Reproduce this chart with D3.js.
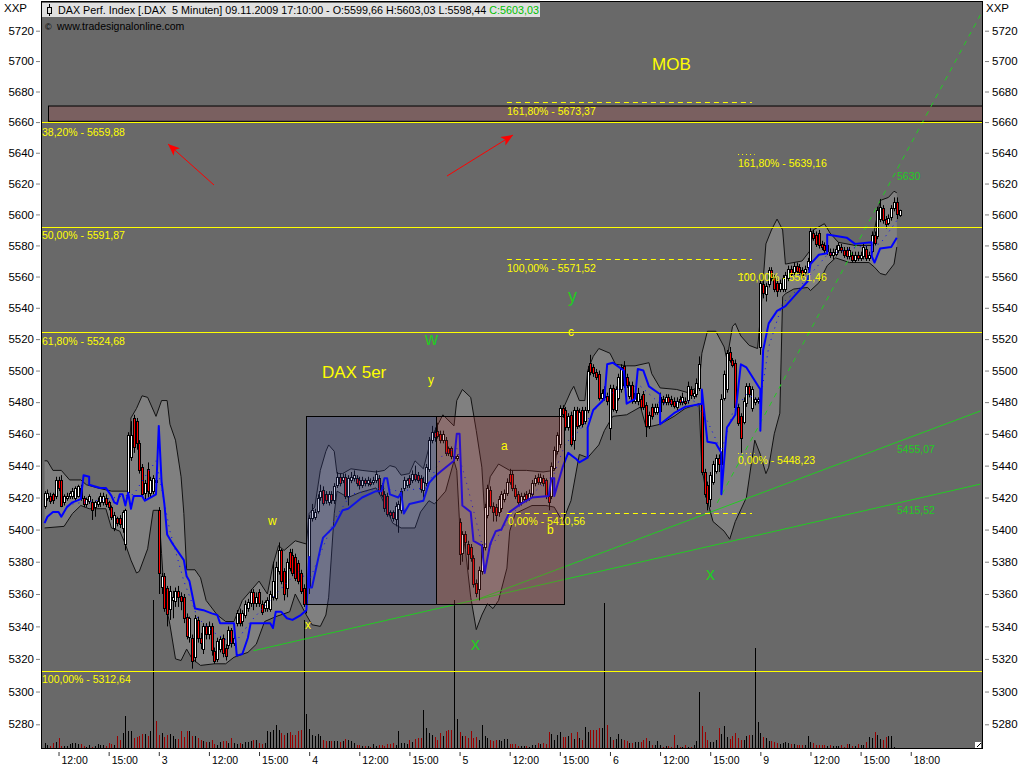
<!DOCTYPE html>
<html>
  <head>
    <script src="https://d3js.org/d3.v7.min.js" charset="utf-8"></script>
    <style>
      html, body { margin: 0; padding: 0; background: #fff; }
      svg { display: block; font-family: "Liberation Sans", sans-serif; }
    </style>
  </head>
  <body>
    <svg id="chart" width="1024" height="768"></svg>
    <script>
      // candles, one row = 10 bars
      var opens = [
        5415,5420,5421,5422,5421,5431,5431,5417,5420,5421,
        5421,5420,5421,5426,5420,5416,5418,5417,5414,5416,
        5417,5417,5420,5417,5414,5401,5407,5407,5401,5391,
        5423,5445,5470,5468,5454,5439,5423,5438,5423,5424,
        5431,5412,5364,5371,5364,5351,5356,5356,5362,5359,
        5358,5346,5333,5333,5321,5344,5333,5326,5340,5335,
        5340,5325,5320,5326,5333,5327,5329,5338,5330,5342,
        5348,5343,5347,5351,5354,5361,5354,5361,5354,5351,
        5351,5351,5358,5358,5374,5387,5374,5364,5386,5384,
        5383,5379,5373,5364,5354,5364,5407,5408,5412,5420,
        5425,5422,5417,5422,5418,5428,5433,5431,5433,5421,
        5431,5432,5432,5431,5428,5431,5429,5430,5430,5431,
        5432,5428,5422,5421,5411,5411,5407,5413,5412,5426,
        5428,5432,5431,5435,5434,5432,5425,5429,5438,5456,
        5461,5462,5460,5456,5456,5451,5451,5446,5445,5405,
        5385,5397,5391,5389,5382,5367,5363,5374,5389,5409,
        5425,5415,5414,5411,5413,5419,5423,5435,5435,5426,
        5422,5417,5419,5422,5420,5422,5429,5433,5430,5432,
        5431,5421,5421,5439,5449,5453,5476,5475,5464,5472,
        5456,5475,5466,5475,5468,5475,5505,5502,5499,5498,
        5483,5488,5484,5464,5489,5475,5483,5488,5503,5496,
        5484,5491,5481,5481,5482,5485,5478,5465,5477,5474,
        5474,5474,5482,5480,5483,5482,5481,5477,5482,5480,
        5481,5481,5488,5484,5485,5489,5481,5436,5428,5419,
        5430,5437,5445,5441,5483,5488,5512,5507,5505,5477,
        5471,5468,5479,5490,5476,5480,5481,5515,5555,5549,
        5555,5564,5559,5556,5552,5552,5552,5559,5565,5563,
        5567,5566,5564,5563,5566,5570,5588,5587,5588,5581,
        5580,5576,5576,5574,5575,5577,5579,5577,5577,5573,
        5574,5571,5574,5572,5573,5578,5572,5577,5587,5586,
        5597,5604,5597,5595,5598,5604,5608,5599.66
      ];
      var closes = [
        5423,5423,5418,5418,5431,5426,5415,5421,5421,5423,
        5424,5426,5427,5420,5416,5419,5421,5412,5417,5418,
        5421,5421,5416,5414,5408,5409,5404,5403,5411,5412,
        5459,5459,5452,5454,5437,5422,5429,5424,5431,5432,
        5430,5373,5371,5351,5348,5362,5358,5362,5358,5356,
        5345,5334,5345,5319,5345,5333,5330,5340,5335,5340,
        5325,5319,5331,5332,5324,5322,5338,5330,5333,5348,
        5342,5348,5354,5355,5361,5354,5358,5354,5349,5355,
        5356,5360,5368,5377,5387,5368,5360,5380,5376,5373,
        5370,5368,5362,5354,5356,5407,5412,5411,5420,5424,
        5417,5418,5422,5418,5427,5433,5429,5433,5421,5432,
        5433,5434,5429,5428,5431,5429,5431,5429,5431,5435,
        5424,5422,5413,5410,5409,5407,5415,5416,5424,5431,
        5431,5428,5435,5432,5431,5425,5430,5439,5456,5461,
        5458,5459,5456,5460,5448,5448,5446,5445,5446,5385,
        5397,5392,5385,5382,5366,5361,5375,5389,5414,5426,
        5415,5411,5409,5419,5422,5423,5430,5430,5426,5421,
        5417,5421,5421,5419,5423,5429,5432,5430,5433,5429,
        5421,5417,5440,5450,5459,5476,5472,5464,5471,5454,
        5475,5465,5474,5466,5475,5500,5499,5498,5496,5483,
        5486,5483,5481,5489,5476,5488,5496,5502,5491,5491,
        5491,5481,5486,5486,5477,5477,5465,5472,5471,5477,
        5477,5483,5480,5483,5480,5479,5478,5481,5480,5483,
        5480,5490,5484,5486,5492,5504,5436,5422,5417,5434,
        5441,5445,5441,5482,5498,5511,5507,5504,5477,5467,
        5457,5481,5490,5485,5488,5482,5482,5556,5549,5554,
        5564,5559,5552,5551,5556,5559,5561,5565,5562,5567,
        5564,5563,5561,5565,5570,5589,5585,5581,5580,5579,
        5577,5580,5574,5576,5578,5580,5577,5574,5573,5577,
        5571,5574,5572,5574,5579,5572,5574,5587,5582,5603,
        5605,5596,5594,5598,5604,5608,5600,5603.03
      ];
      var highs = [
        5424,5425,5423,5423,5433,5433,5434,5422,5423,5424,
        5426,5427,5428,5428,5421,5420,5422,5419,5418,5420,
        5423,5423,5422,5418,5415,5411,5408,5409,5412,5413,
        5461,5468,5472,5470,5456,5441,5431,5442,5433,5434,
        5433,5414,5373,5373,5365,5365,5362,5364,5365,5361,
        5360,5348,5346,5335,5347,5346,5336,5342,5342,5343,
        5342,5327,5333,5334,5335,5329,5340,5339,5335,5350,
        5351,5350,5356,5357,5363,5363,5361,5363,5356,5356,
        5358,5362,5380,5380,5392,5388,5376,5382,5388,5388,
        5385,5381,5375,5366,5358,5409,5416,5413,5422,5428,
        5427,5424,5424,5424,5429,5436,5435,5435,5435,5434,
        5436,5437,5434,5433,5433,5432,5433,5432,5433,5437,
        5434,5429,5424,5423,5412,5412,5417,5418,5426,5433,
        5432,5434,5437,5440,5436,5434,5433,5441,5458,5465,
        5464,5467,5462,5462,5458,5452,5452,5447,5447,5407,
        5399,5399,5393,5391,5384,5369,5377,5391,5416,5428,
        5427,5417,5416,5421,5424,5425,5432,5438,5437,5428,
        5424,5423,5423,5424,5425,5431,5434,5435,5435,5434,
        5432,5423,5442,5452,5461,5478,5478,5477,5473,5474,
        5477,5477,5476,5477,5477,5503,5510,5504,5501,5500,
        5488,5490,5486,5491,5491,5490,5498,5504,5506,5498,
        5493,5493,5488,5489,5484,5487,5480,5474,5479,5479,
        5479,5486,5484,5485,5485,5484,5483,5483,5484,5486,
        5483,5493,5490,5488,5495,5509,5483,5438,5430,5436,
        5443,5447,5447,5485,5500,5513,5515,5508,5507,5479,
        5473,5483,5492,5492,5490,5483,5483,5558,5557,5556,
        5566,5566,5561,5558,5558,5561,5563,5567,5567,5569,
        5569,5568,5566,5567,5572,5591,5590,5589,5590,5583,
        5582,5582,5578,5578,5580,5582,5581,5579,5579,5579,
        5576,5576,5576,5576,5581,5580,5576,5589,5589,5605,
        5610,5606,5599,5600,5606,5611,5611,5603.03
      ];
      var lows = [
        5413,5418,5416,5416,5419,5424,5414,5415,5418,5419,
        5419,5418,5420,5418,5414,5414,5416,5406,5408,5414,
        5414,5415,5414,5412,5406,5399,5402,5401,5398,5387,
        5421,5443,5448,5450,5435,5420,5418,5420,5420,5422,
        5428,5360,5360,5349,5340,5344,5345,5352,5352,5350,
        5342,5332,5330,5314,5318,5330,5326,5323,5332,5332,
        5322,5317,5318,5324,5321,5319,5326,5327,5328,5340,
        5340,5340,5345,5349,5352,5350,5352,5352,5347,5349,
        5349,5349,5356,5356,5372,5366,5356,5358,5374,5371,
        5368,5366,5360,5352,5348,5360,5405,5406,5410,5418,
        5415,5416,5415,5416,5416,5426,5427,5429,5419,5415,
        5429,5430,5427,5425,5426,5427,5427,5427,5428,5429,
        5422,5420,5411,5408,5407,5405,5402,5398,5410,5424,
        5426,5426,5429,5430,5429,5423,5420,5427,5436,5454,
        5455,5457,5454,5454,5446,5446,5444,5443,5443,5378,
        5380,5388,5375,5380,5364,5358,5356,5372,5387,5407,
        5413,5405,5405,5408,5411,5417,5421,5428,5424,5419,
        5415,5415,5417,5417,5418,5420,5427,5428,5428,5427,
        5419,5412,5419,5437,5447,5451,5470,5462,5462,5452,
        5450,5463,5464,5464,5466,5473,5497,5496,5494,5481,
        5480,5481,5478,5456,5474,5473,5481,5486,5489,5489,
        5482,5479,5479,5478,5475,5475,5458,5463,5469,5472,
        5472,5472,5478,5478,5478,5477,5476,5475,5478,5478,
        5478,5479,5482,5482,5483,5487,5434,5420,5412,5414,
        5428,5435,5436,5438,5481,5486,5505,5502,5475,5465,
        5448,5466,5477,5483,5474,5478,5479,5510,5546,5544,
        5553,5557,5550,5547,5550,5550,5550,5557,5560,5561,
        5562,5561,5559,5561,5564,5568,5583,5579,5578,5577,
        5575,5574,5572,5571,5573,5575,5575,5572,5571,5571,
        5569,5569,5570,5570,5571,5570,5570,5575,5580,5584,
        5595,5594,5591,5593,5596,5602,5597,5598.44
      ];
      var volumes = [
        5,3,2,5,6,10,2,2,2,4,
        5,5,4,4,2,1,3,1,2,4,
        3,3,2,5,4,3,12,8,15,32,
        17,17,10,11,12,14,14,12,17,148,
        27,13,15,11,13,14,12,9,9,17,
        11,17,17,12,12,10,8,7,6,6,
        8,4,3,6,7,7,5,10,5,4,
        5,4,6,6,7,8,8,5,4,5,
        17,16,18,23,18,15,13,15,16,13,
        13,17,18,128,34,19,13,12,14,12,
        8,7,7,7,7,7,6,7,9,8,
        7,5,3,3,2,2,2,1,4,2,
        3,3,2,4,4,5,3,17,5,5,
        4,8,6,9,10,10,38,20,15,13,
        11,8,15,12,17,18,18,148,29,16,
        12,12,10,17,10,11,8,23,12,10,
        8,7,8,8,7,9,9,4,4,4,
        2,2,2,2,1,3,3,5,4,5,
        4,16,14,8,13,16,11,11,12,15,
        9,16,10,8,21,16,18,18,18,20,
        20,145,23,11,8,9,14,9,8,7,
        5,5,6,6,6,8,10,7,3,3,
        7,3,1,2,2,1,13,3,1,1,
        3,1,1,3,7,56,22,16,8,6,
        6,8,20,14,22,11,9,12,15,10,
        8,8,12,13,13,100,26,15,11,10,
        7,7,6,5,4,5,6,5,4,4,
        3,3,3,3,12,6,5,3,3,3,
        3,2,3,2,2,2,3,1,4,4,
        2,2,4,3,3,6,11,10,16,13,
        9,8,11,12,12,1,0,0
      ];
      var closingPrints = [39, 93, 147, 201, 255];

      var upperIdx = [0,1,3,6,9,13,15,19,24,30,31,33,35,37,40,42,44,45,47,49,50,51,54,56,58,62,65,68,71,74,77,80,82,84,86,90,94,95,97,99,101,102,104,105,107,110,114,119,122,124,126,128,131,133,136,139,143,147,148,150,153,155,157,158,160,163,167,173,179,183,186,189,190,192,194,195,197,199,203,205,209,212,217,218,221,227,231,235,236,238,241,244,245,247,248,250,253,256,257,259,261,263,265,266,272,275,276,280,282,285,291,297,298,300,303,305,306];
      var upperVal = [5443,5443,5437,5437,5431,5431,5428,5426,5424,5424,5470,5476,5484,5483,5471,5481,5481,5466,5456,5433,5410,5375,5375,5370,5356,5347,5343,5343,5356,5362,5368,5360,5378,5390,5387,5393,5391,5410,5414,5437,5449,5453,5449,5435,5435,5438,5437,5436,5437,5440,5439,5434,5435,5443,5438,5458,5472,5465,5481,5488,5483,5462,5439,5410,5433,5441,5437,5437,5436,5437,5475,5487,5490,5481,5481,5500,5509,5514,5511,5504,5503,5503,5505,5498,5489,5488,5486,5490,5511,5525,5525,5515,5507,5528,5530,5522,5516,5514,5534,5581,5590,5597,5590,5568,5570,5577,5590,5594,5588,5582,5580,5580,5590,5609,5611,5615,5614];
      var lowerIdx = [0,7,10,13,16,22,24,27,29,31,33,34,37,39,41,42,43,45,47,49,51,53,56,61,65,68,73,76,79,83,88,90,94,96,99,101,102,104,105,109,113,119,121,125,128,133,135,138,140,144,147,148,149,151,153,155,157,159,161,163,166,167,169,175,180,183,186,189,192,195,199,201,204,209,214,216,221,226,230,235,236,238,240,244,246,248,252,255,257,259,260,262,264,265,266,269,274,275,278,281,284,289,296,298,300,302,305,306];
      var lowerVal = [5401,5402,5410,5415,5413,5413,5401,5399,5391,5381,5373,5374,5388,5412,5412,5385,5358,5341,5320,5319,5326,5320,5316,5317,5317,5321,5324,5329,5343,5346,5349,5360,5347,5341,5340,5347,5358,5410,5424,5420,5423,5426,5420,5404,5401,5401,5411,5418,5416,5424,5443,5437,5404,5389,5358,5338,5347,5354,5351,5356,5376,5399,5410,5415,5415,5414,5405,5418,5447,5445,5453,5462,5471,5472,5477,5464,5466,5471,5476,5479,5439,5418,5405,5399,5394,5405,5420,5456,5447,5435,5439,5460,5473,5547,5549,5552,5553,5551,5556,5567,5572,5569,5569,5566,5562,5561,5568,5579];
      var avgIdx = [0,1,3,5,6,8,10,13,14,16,16,20,22,24,25,26,27,28,29,30,31,32,35,36,38,40,41,42,43,44,46,50,51,52,54,57,60,62,63,65,68,69,71,73,74,81,82,83,85,87,89,92,94,95,95,96,99,100,104,107,109,114,119,121,122,123,124,127,128,129,131,136,136,138,140,142,147,148,149,150,153,154,157,158,160,162,164,167,171,175,181,182,183,183,186,188,191,192,195,195,197,201,202,204,208,209,212,213,215,217,221,221,226,230,236,236,238,241,243,243,245,248,250,252,257,257,258,260,263,266,270,274,275,278,281,281,288,291,297,297,298,300,304,306];
      var avgVal = [5404,5408,5411,5411,5408,5414,5417,5419,5434,5433,5428,5426,5426,5421,5417,5416,5422,5422,5415,5423,5413,5421,5421,5418,5420,5422,5465,5430,5416,5397,5391,5381,5371,5368,5351,5350,5348,5347,5342,5342,5342,5322,5323,5333,5342,5342,5339,5349,5349,5345,5344,5347,5350,5383,5364,5364,5388,5395,5402,5412,5413,5420,5424,5424,5432,5432,5422,5420,5423,5410,5416,5418,5418,5429,5433,5436,5443,5460,5460,5415,5411,5393,5390,5373,5391,5399,5400,5411,5416,5420,5421,5432,5432,5421,5439,5448,5444,5442,5445,5464,5475,5482,5504,5505,5500,5479,5482,5501,5500,5490,5485,5466,5473,5477,5479,5488,5455,5454,5448,5422,5464,5472,5504,5502,5488,5462,5513,5530,5538,5541,5549,5557,5568,5574,5575,5587,5585,5581,5582,5573,5569,5578,5579,5585];
      var dotIdx = [10,22,32,36,40,42,45,50,55,61,68,74,83,91,95,104,110,121,127,137,143,148,152,157,161,168,175,183,187,192,201,208,214,221,233,238,243,247,252,257,260,265,270,281,292,300,306];
      var dotVal = [5416,5419,5422,5433,5443,5426,5399,5368,5345,5336,5329,5343,5360,5374,5368,5406,5422,5426,5424,5426,5447,5451,5426,5391,5391,5410,5422,5435,5454,5462,5483,5490,5490,5479,5481,5468,5449,5473,5485,5481,5515,5543,5551,5574,5579,5581,5596];

      // horizontal levels
      var fibPrices = [5659.88, 5591.87, 5524.68, 5312.64];
      var fibLabels = ["38,20% - 5659,88", "50,00% - 5591,87", "61,80% - 5524,68", "100,00% - 5312,64"];
      var dashPrices = [5673.37, 5571.52, 5410.56];
      var dashLabels = ["161,80% - 5673,37", "100,00% - 5571,52", "0,00% - 5410,56"];
      var dotPrices = [5639.16, 5561.46, 5448.23];
      var dotLabels = ["161,80% - 5639,16", "100,00% - 5561,46", "0,00% - 5448,23"];

      // trend lines: bar, price, bar, price
      var trendLines = [[75, 5325, 336, 5428.4], [155, 5356.4, 336, 5474.4]];
      var channelLine = [241.5, 5416.6, 336, 5730.4];

      var priceTicks = d3.range(5280, 5721, 20);
      var timeTicks = d3.range(5, 312, 18);
      var timeLabels = ["12:00","15:00","3","12:00","15:00","4","12:00","15:00","5","12:00","15:00","6","12:00","15:00","9","12:00","15:00","18:00"];

      var svg = d3.select("#chart");
      var x = d3.scaleLinear().domain([0, 100]).range([44.6, 323.1]);
      var y = d3.scaleLog().domain([5280, 5720]).range([724.3, 30.7]);
      var yVol = d3.scaleLinear().domain([0, 150]).range([748, 598]);

      var plotL = 41, plotR = 982, plotT = 1, plotB = 748;
      var green = "#22cc22";

      svg.append("defs").append("clipPath").attr("id", "plot")
        .append("rect").attr("x", plotL).attr("y", plotT).attr("width", plotR - plotL).attr("height", plotB - plotT);
      svg.select("defs").append("marker").attr("id", "head")
        .attr("markerUnits", "userSpaceOnUse").attr("markerWidth", 13).attr("markerHeight", 10)
        .attr("refX", 12).attr("refY", 5).attr("orient", "auto")
        .append("path").attr("d", "M0,0L12,5L0,10L3,5Z").attr("fill", "#ff0000");

      svg.append("rect").attr("x", plotL).attr("y", plotT).attr("width", plotR - plotL).attr("height", plotB - plotT)
        .attr("fill", "#696969");

      var g = svg.append("g").attr("clip-path", "url(#plot)");

      // resistance box
      g.append("rect").attr("x", 48.5).attr("y", y(5670.5)).attr("width", 960).attr("height", y(5660.5) - y(5670.5))
        .attr("fill", "#7a6060").attr("stroke", "#000");

      // envelope
      var bandPts = upperIdx.map((d, i) => [d, upperVal[i]])
        .concat(lowerIdx.map((d, i) => [d, lowerVal[i]]).reverse());
      var lineXY = d3.line().x(d => x(d[0])).y(d => y(d[1]));
      g.append("path").attr("d", lineXY(bandPts) + "Z").attr("fill", "#808080");
      g.append("path").attr("d", lineXY(upperIdx.map((d, i) => [d, upperVal[i]])))
        .attr("fill", "none").attr("stroke", "#111");
      g.append("path").attr("d", lineXY(lowerIdx.map((d, i) => [d, lowerVal[i]])))
        .attr("fill", "none").attr("stroke", "#111");

      // volume
      g.selectAll("line.vol").data(volumes).enter().append("line")
        .attr("class", "vol")
        .attr("x1", (d, i) => Math.round(x(i)) + 0.5)
        .attr("x2", (d, i) => Math.round(x(i)) + 0.5)
        .attr("y1", yVol(0))
        .attr("y2", d => yVol(d))
        .attr("stroke", (d, i) => closes[i] >= opens[i] || closingPrints.includes(i) ? "#000" : "#990000");

      // green trend lines
      g.selectAll("line.trend").data(trendLines).enter().append("line")
        .attr("class", "trend")
        .attr("x1", d => x(d[0])).attr("y1", d => y(d[1]))
        .attr("x2", d => x(d[2])).attr("y2", d => y(d[3]))
        .attr("stroke", green);
      g.append("line")
        .attr("x1", x(channelLine[0])).attr("y1", y(channelLine[1]))
        .attr("x2", x(channelLine[2])).attr("y2", y(channelLine[3]))
        .attr("stroke", green).attr("stroke-dasharray", "5 5");

      // candles
      var bars = g.selectAll("g.bar").data(opens).enter().append("g").attr("class", "bar");
      bars.append("line")
        .attr("x1", (d, i) => Math.round(x(i)) + 0.5)
        .attr("x2", (d, i) => Math.round(x(i)) + 0.5)
        .attr("y1", (d, i) => y(highs[i]))
        .attr("y2", (d, i) => y(lows[i]))
        .attr("stroke", "#000");
      bars.append("rect")
        .attr("x", (d, i) => Math.round(x(i)) - 0.5)
        .attr("width", 2)
        .attr("y", (d, i) => Math.round(y(Math.max(opens[i], closes[i]))) + 0.5)
        .attr("height", (d, i) => Math.max(1, Math.round(Math.abs(y(opens[i]) - y(closes[i])))))
        .attr("fill", (d, i) => closes[i] >= opens[i] ? "#fff" : "#ff0000")
        .attr("stroke", "#000");

      // moving average and its dotted companion
      g.append("path").attr("d", lineXY(dotIdx.map((d, i) => [d, dotVal[i]])))
        .attr("fill", "none").attr("stroke", "#0000ff").attr("stroke-dasharray", "1 5");
      g.append("path").attr("d", lineXY(avgIdx.map((d, i) => [d, avgVal[i]])))
        .attr("fill", "none").attr("stroke", "#0000ff").attr("stroke-width", 2).attr("stroke-linejoin", "round");

      // time boxes
      g.append("rect").attr("x", 306.5).attr("y", 416.5).attr("width", 130).attr("height", 188)
        .attr("fill", "rgb(60,70,160)").attr("fill-opacity", 0.25).attr("stroke", "#000");
      g.append("rect").attr("x", 436.5).attr("y", 416.5).attr("width", 128).attr("height", 188)
        .attr("fill", "rgb(170,60,60)").attr("fill-opacity", 0.25).attr("stroke", "#000");

      // levels
      g.selectAll("line.fib").data(fibPrices).enter().append("line")
        .attr("class", "fib")
        .attr("x1", plotL).attr("x2", plotR)
        .attr("y1", d => Math.round(y(d)) + 0.5).attr("y2", d => Math.round(y(d)) + 0.5)
        .attr("stroke", "#ffff00");
      g.selectAll("line.dash").data(dashPrices).enter().append("line")
        .attr("class", "dash")
        .attr("x1", x(166)).attr("x2", x(254))
        .attr("y1", d => Math.round(y(d)) + 0.5).attr("y2", d => Math.round(y(d)) + 0.5)
        .attr("stroke", "#ffff00").attr("stroke-dasharray", "5 4");
      g.selectAll("line.dots").data(dotPrices).enter().append("line")
        .attr("class", "dots")
        .attr("x1", x(249)).attr("x2", x(255))
        .attr("y1", d => Math.round(y(d)) + 0.5).attr("y2", d => Math.round(y(d)) + 0.5)
        .attr("stroke", "#ffff00").attr("stroke-dasharray", "1 3");

      // arrows
      g.append("line").attr("x1", 214).attr("y1", 185).attr("x2", 168).attr("y2", 144)
        .attr("stroke", "#ff0000").attr("marker-end", "url(#head)");
      g.append("line").attr("x1", 447).attr("y1", 176).attr("x2", 513).attr("y2", 135)
        .attr("stroke", "#ff0000").attr("marker-end", "url(#head)");

      function label(txt, px, py, size, color) {
        svg.append("text").text(txt).attr("x", px).attr("y", py)
          .attr("font-size", size).attr("fill", color);
      }
      var fibY = [136, 239, 345, 683];
      fibLabels.forEach((t, i) => label(t, 42, fibY[i], 10.5, "#ffff00"));
      var dashY = [115, 272, 525], dashX = [507, 507, 508];
      dashLabels.forEach((t, i) => label(t, dashX[i], dashY[i], 10.5, "#ffff00"));
      var dotY = [167, 281, 464];
      dotLabels.forEach((t, i) => label(t, 738, dotY[i], 10.5, "#ffff00"));

      label("MOB", 652, 70, 17, "#ffff00");
      label("DAX 5er", 322, 378, 17, "#ffff00");
      label("w", 268, 525, 12, "#ffff00");
      label("y", 428, 384, 12, "#ffff00");
      label("x", 305, 629, 12, "#ffff00");
      label("a", 501, 450, 12, "#ffff00");
      label("b", 547, 534, 12, "#ffff00");
      label("c", 568, 336, 12, "#ffff00");
      label("w", 425, 345, 18, green);
      label("y", 568, 302, 18, green);
      label("x", 471, 650, 18, green);
      label("x", 706, 580, 18, green);
      label("5630", 897, 180, 10.5, green);
      label("5455,07", 897, 453, 10.5, green);
      label("5415,52", 897, 514, 10.5, green);

      // plot frame and header
      svg.append("rect").attr("x", plotL + 0.5).attr("y", plotT + 0.5).attr("width", plotR - plotL).attr("height", plotB - plotT)
        .attr("fill", "none").attr("stroke", "#000");
      svg.append("rect").attr("x", 42).attr("y", 3).attr("width", 498).attr("height", 14).attr("fill", "#e0e0e0");
      svg.append("line").attr("x1", 49.5).attr("x2", 49.5).attr("y1", 4).attr("y2", 16).attr("stroke", "#000");
      svg.append("rect").attr("x", 47.5).attr("y", 7.5).attr("width", 4).attr("height", 6).attr("fill", "#e0e0e0").attr("stroke", "#000");
      var title = svg.append("text").attr("x", 58).attr("y", 14).attr("font-size", 10.75).attr("fill", "#000").attr("xml:space", "preserve");
      title.append("tspan").text("DAX Perf. Index [.DAX  5 Minuten] 09.11.2009 17:10:00 - O:5599,66 H:5603,03 L:5598,44 ");
      title.append("tspan").text("C:5603,03").attr("fill", "#00c000");
      label("\u00a9", 45, 30, 9, "#000");
      label("www.tradesignalonline.com", 57, 30, 10.5, "#000");
      svg.append("path").attr("d", "M975,748L975,742L981,742L981,748Z").attr("fill", "#fff");
      svg.append("path").attr("d", "M977,747L981,743").attr("stroke", "#000");

      // axes
      var axisL = d3.axisLeft(y).tickValues(priceTicks).tickFormat(d3.format("d")).tickSize(4).tickPadding(2);
      var axisR = d3.axisRight(y).tickValues(priceTicks).tickFormat(d3.format("d")).tickSize(4).tickPadding(3);
      var axisB = d3.axisBottom(x).tickValues(timeTicks).tickFormat((d, i) => timeLabels[i]).tickSize(4).tickSizeOuter(0);

      var gL = svg.append("g").attr("transform", "translate(40,0)").call(axisL);
      var gR = svg.append("g").attr("transform", "translate(985,0)").call(axisR);
      var gB = svg.append("g").attr("transform", "translate(0,752)").call(axisB);
      [gL, gR, gB].forEach(a => {
        a.select(".domain").remove();
        a.selectAll("text").attr("font-family", "Liberation Sans").attr("font-size", 11.5).attr("fill", "#000");
      });
      gL.selectAll("line").attr("stroke", "#808080");
      gR.selectAll("line").attr("stroke", "#808080");
      gB.selectAll("line").attr("stroke", "#333");
      gB.selectAll("text").attr("font-size", 10.5).attr("text-anchor", "start").attr("x", 2.5).attr("y", 5).attr("dy", "0.71em");

      label("XXP", 4, 12, 11.5, "#000");
      label("XXP", 986, 12, 11.5, "#000");
    </script>
  </body>
</html>
